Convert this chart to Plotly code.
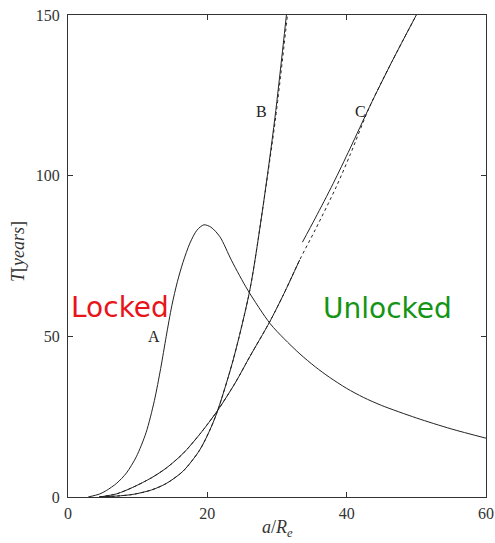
import plotly.graph_objects as go

# Curve A
a_x = [2.9, 4.5, 5.5, 7.0, 8.4, 9.8, 11.2, 12.4, 13.3, 14.1, 14.9, 15.7, 16.5, 17.5, 18.5, 19.5, 20.5, 21.8, 23.5, 25.8, 29.0, 31.0, 33.3, 35.5, 37.5, 40.0, 42.4, 45.0, 50.0, 55.0, 60.0]
a_y = [0.0, 0.9, 2.0, 4.3, 7.5, 12.5, 20.0, 30.0, 40.0, 50.0, 59.5, 67.0, 73.0, 79.0, 83.0, 84.7, 84.0, 81.0, 73.5, 64.4, 54.0, 49.3, 44.5, 40.5, 37.3, 33.8, 31.0, 28.5, 24.6, 21.2, 18.3]

# Curve B (solid and dotted nearly coincide)
b_x = [4.5, 7.0, 9.3, 12.0, 14.1, 16.5, 18.9, 20.5, 21.5, 23.7, 26.1, 28.0, 29.7, 31.35]
b_y = [0.0, 0.3, 0.8, 2.2, 4.2, 8.0, 14.6, 21.5, 27.0, 42.6, 64.4, 90.5, 118.0, 150.0]
b_dot_x = [4.5, 7.0, 9.3, 12.0, 14.1, 16.5, 18.9, 20.5, 21.5, 23.7, 26.1, 28.0, 29.8, 31.5]
b_dot_y = [0.0, 0.3, 0.8, 2.2, 4.2, 8.0, 14.6, 21.5, 27.0, 42.6, 64.4, 90.5, 118.0, 150.0]

# Curve C solid, lower part and upper part (with a jump)
c1_x = [4.5, 7.0, 9.3, 12.0, 14.1, 16.5, 18.9, 21.5, 24.0, 26.1, 28.95, 31.0, 33.26]
c1_y = [0.0, 1.0, 3.0, 6.0, 9.0, 13.5, 19.5, 27.0, 35.5, 43.7, 54.5, 63.3, 73.8]
c2_x = [33.65, 35.5, 38.05, 40.5, 43.3, 46.5, 50.0]
c2_y = [79.3, 86.8, 97.5, 108.5, 121.5, 135.5, 150.0]
# Curve C dotted continuation
c_dot_x = [33.26, 35.5, 38.5, 40.5, 43.3, 46.5, 50.0]
c_dot_y = [73.8, 83.2, 96.5, 106.5, 121.5, 135.5, 150.0]

curve_labels = ["A", "B", "C"]
label_x = [12.3, 27.8, 42.0]
label_y = [49.8, 120.0, 120.0]

x_ticks = [0, 20, 40, 60]
y_ticks = [0, 50, 100, 150]

LC = "#222222"
serif = "Liberation Serif, DejaVu Serif, serif"

def line(dash=None):
    d = dict(color=LC, width=1, shape="spline", smoothing=0.8)
    if dash:
        d["dash"] = dash
    return d

fig = go.Figure()
fig.add_trace(go.Scatter(x=a_x, y=a_y, mode="lines", line=line(), showlegend=False))
fig.add_trace(go.Scatter(x=b_dot_x, y=b_dot_y, mode="lines", line=line("dot"), showlegend=False))
fig.add_trace(go.Scatter(x=b_x, y=b_y, mode="lines", line=line(), showlegend=False))
fig.add_trace(go.Scatter(x=c1_x + c_dot_x[1:], y=c1_y + c_dot_y[1:], mode="lines", line=line("dot"), showlegend=False))
fig.add_trace(go.Scatter(x=c1_x, y=c1_y, mode="lines", line=line(), showlegend=False))
fig.add_trace(go.Scatter(x=c2_x, y=c2_y, mode="lines", line=line(), showlegend=False))

for t, lx, ly in zip(curve_labels, label_x, label_y):
    fig.add_annotation(x=lx, y=ly, text=t, showarrow=False,
                       font=dict(family=serif, size=16, color="#222"))

fig.add_annotation(x=7.4, y=59, text="Locked", showarrow=False,
                   font=dict(family="DejaVu Sans", size=28, color="#e8141a"))
fig.add_annotation(x=45.8, y=58.8, text="Unlocked", showarrow=False,
                   font=dict(family="DejaVu Sans", size=28, color="#149414"))

# axis titles as paper annotations
fig.add_annotation(xref="paper", yref="paper", x=0.5, y=-0.066, xanchor="center", yanchor="middle",
                   text="<i>a</i>/<i>R<sub>e</sub></i>",
                   showarrow=False, font=dict(family=serif, size=18, color="#333"))
fig.add_annotation(xref="paper", yref="paper", x=-0.12, y=0.51, xanchor="center", yanchor="middle",
                   text="<i>T</i>[<i>years</i>]",
                   showarrow=False, textangle=-90, font=dict(family=serif, size=18, color="#333"))

fig.update_layout(
    width=495, height=543,
    margin=dict(l=68, r=9, t=15, b=46),
    plot_bgcolor="white", paper_bgcolor="white",
    font=dict(family=serif, size=16, color="#333"),
    xaxis=dict(range=[0, 60], tickvals=x_ticks, ticks="inside", ticklen=5, tickcolor="#333",
               showline=True, linecolor="#333", linewidth=1, mirror="ticks", showgrid=False, zeroline=False,
               automargin=False, ticklabelstandoff=2),
    yaxis=dict(range=[0, 150], tickvals=y_ticks, ticks="inside", ticklen=5, tickcolor="#333",
               showline=True, linecolor="#333", linewidth=1, mirror="ticks", showgrid=False, zeroline=False,
               automargin=False, ticklabelstandoff=4),
)
fig.write_html("out.html", config={"displayModeBar": False},
               post_script="document.body.style.margin='0';")
